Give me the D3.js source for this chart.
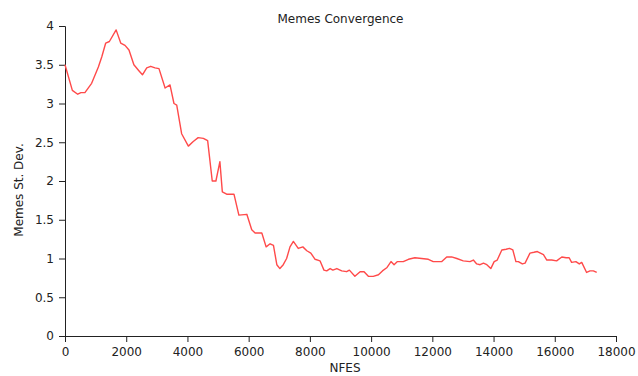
<!DOCTYPE html>
<html>
<head>
<meta charset="utf-8">
<script src="https://cdn.jsdelivr.net/npm/d3@7"></script>
<style>
  html, body { margin: 0; padding: 0; background: #fff; }
  svg text { font-family: "DejaVu Sans", Verdana, sans-serif; fill: #222; }
</style>
</head>
<body>
<svg id="chart" width="638" height="376"></svg>
<script>
// Number of function evaluations at each sample
const nfes = [
  0, 240, 415, 520, 650, 870, 1090, 1200, 1330, 1450, 1670, 1820, 1960, 2090, 2250,
  2420, 2530, 2670, 2800, 2940, 3070, 3270, 3430, 3560, 3650, 3810, 4030, 4190, 4350,
  4520, 4660, 4810, 4930, 5060, 5140, 5280, 5520, 5680, 5940, 6100, 6210, 6430, 6570,
  6700, 6810, 6920, 7020, 7130, 7240, 7350, 7460, 7620, 7770, 7900, 8030, 8170, 8330,
  8460, 8550, 8660, 8750, 8880, 9040, 9200, 9290, 9470, 9640, 9770, 9910, 10070, 10240,
  10370, 10510, 10650, 10750, 10860, 11050, 11220, 11430, 11650, 11870, 12030, 12310,
  12470, 12630, 12800, 13010, 13230, 13340, 13450, 13560, 13670, 13780, 13910, 14020,
  14120, 14270, 14410, 14520, 14630, 14730, 14810, 14940, 15030, 15190, 15320, 15430,
  15630, 15740, 15900, 16060, 16230, 16370, 16470, 16550, 16690, 16800, 16880, 17040,
  17150, 17260, 17370
];

// Standard deviation of the memes at each sample
const memesStdDev = [
  3.50, 3.17, 3.12, 3.14, 3.14, 3.26, 3.47, 3.60, 3.78, 3.80, 3.95, 3.78, 3.75, 3.69, 3.50,
  3.42, 3.37, 3.46, 3.48, 3.46, 3.45, 3.20, 3.24, 3.00, 2.98, 2.61, 2.45, 2.51, 2.56,
  2.55, 2.52, 2.00, 2.00, 2.25, 1.86, 1.83, 1.83, 1.56, 1.57, 1.37, 1.33, 1.33, 1.15,
  1.19, 1.17, 0.92, 0.87, 0.92, 1.00, 1.15, 1.22, 1.13, 1.15, 1.10, 1.07, 0.99, 0.97,
  0.85, 0.84, 0.87, 0.85, 0.87, 0.84, 0.83, 0.85, 0.77, 0.83, 0.83, 0.77, 0.77, 0.79,
  0.84, 0.88, 0.96, 0.92, 0.96, 0.96, 0.99, 1.01, 1.00, 0.99, 0.96, 0.96,
  1.02, 1.02, 1.00, 0.97, 0.96, 0.98, 0.93, 0.92, 0.94, 0.92, 0.87, 0.96,
  0.98, 1.11, 1.12, 1.13, 1.11, 0.96, 0.96, 0.93, 0.94, 1.07, 1.08, 1.09,
  1.05, 0.98, 0.98, 0.97, 1.02, 1.01, 1.01, 0.95, 0.96, 0.93, 0.95, 0.82,
  0.84, 0.84, 0.82
];

const xTicks = [0, 2000, 4000, 6000, 8000, 10000, 12000, 14000, 16000, 18000];
const yTicks = [0, 0.5, 1, 1.5, 2, 2.5, 3, 3.5, 4];

const titleText = "Memes Convergence";
const xLabel = "NFES";
const yLabel = "Memes St. Dev.";

const svg = d3.select("#chart");
const margin = { left: 65, right: 22, top: 26, bottom: 40 };
const W = 638, H = 376;

const x = d3.scaleLinear().domain([0, 18000]).range([margin.left, W - margin.right]);
const y = d3.scaleLinear().domain([0, 4]).range([H - margin.bottom, margin.top]);

const axisStyle = g => {
  g.selectAll("path.domain").attr("stroke", "#222");
  g.selectAll(".tick line").attr("stroke", "#222");
  g.selectAll(".tick text").attr("font-size", 12).attr("fill", "#222")
    .attr("font-family", "'DejaVu Sans', Verdana, sans-serif");
};

svg.append("g")
  .attr("transform", `translate(0,${y(0)})`)
  .call(d3.axisBottom(x).tickValues(xTicks).tickFormat(d3.format("d"))
    .tickSizeOuter(0).tickSize(6).tickPadding(5))
  .call(axisStyle);

svg.append("g")
  .attr("transform", `translate(${x(0)},0)`)
  .call(d3.axisLeft(y).tickValues(yTicks).tickFormat(d => String(d))
    .tickSizeOuter(0).tickSize(6).tickPadding(5))
  .call(axisStyle);

const line = d3.line()
  .x((d, i) => x(nfes[i]))
  .y(d => y(d));

svg.append("path")
  .datum(memesStdDev)
  .attr("fill", "none")
  .attr("stroke", "#ff4a4a")
  .attr("stroke-width", 1.4)
  .attr("stroke-linejoin", "round")
  .attr("d", line);

svg.append("text")
  .attr("x", (x(0) + x(18000)) / 2)
  .attr("y", 23)
  .attr("text-anchor", "middle")
  .attr("font-size", 12)
  .text(titleText);

svg.append("text")
  .attr("x", 345)
  .attr("y", 372)
  .attr("text-anchor", "middle")
  .attr("font-size", 12)
  .text(xLabel);

svg.append("text")
  .attr("transform", `translate(23,${190}) rotate(-90)`)
  .attr("text-anchor", "middle")
  .attr("font-size", 12)
  .text(yLabel);
</script>
</body>
</html>
